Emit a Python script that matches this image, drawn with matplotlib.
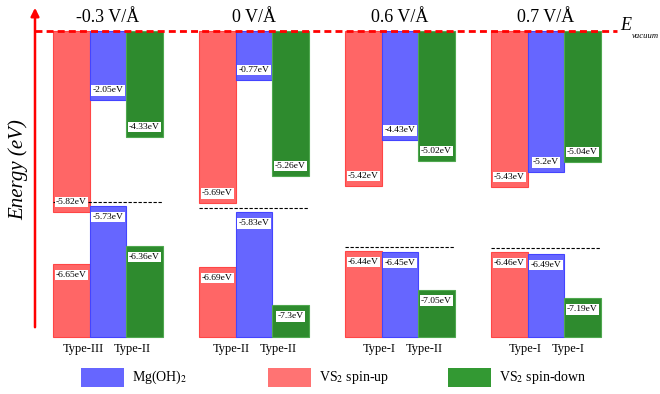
import numpy as np
import matplotlib
matplotlib.use("Agg")
import matplotlib.pyplot as plt
from matplotlib.patches import Rectangle
import matplotlib.transforms as mtransforms

plt.rcParams['font.family'] = ['Liberation Serif', 'DejaVu Serif']
plt.rcParams['mathtext.fontset'] = 'stix'

# electric field for each group
fields = ["-0.3 V/Å", "0 V/Å", "0.6 V/Å", "0.7 V/Å"]
# conduction band minima (bars hanging from the vacuum level)
cbm_up = [-5.82, -5.69, -5.42, -5.43]
cbm_mg = [-2.05, -0.77, -4.43, -5.2]
cbm_down = [-4.33, -5.26, -5.02, -5.04]
# valence band maxima (bars rising from the bottom)
vbm_up = [-6.65, -6.69, -6.44, -6.46]
vbm_mg = [-5.73, -5.83, -6.45, -6.49]
vbm_down = [-6.36, -7.3, -7.05, -7.19]
# band alignment: spin-up / spin-down
type_up = ["Type-III", "Type-II", "Type-I", "Type-I"]
type_down = ["Type-II", "Type-II", "Type-II", "Type-I"]

E_BOT = -7.8  # schematic bottom of the valence bars

# the original energy axis is schematic (compressed near the vacuum level)
axis_E = [-10, -7.8, -5.02, -4.33, -0.77, 0, 2]
axis_depth = [-445, -306, -130, -106, -49, 0, 128]

def fwd(e):
    return np.interp(e, axis_E, axis_depth)

def inv(t):
    return np.interp(t, axis_depth, axis_E)

RED, RED_E = '#FF6666', '#FF4646'
BLUE, BLUE_E = '#6666FF', '#4444FF'
GREEN, GREEN_E = '#2E8B2E', '#4FA84F'

fig = plt.figure(figsize=(6.6, 3.94), dpi=100)
ax = fig.add_axes([0, 0, 1, 1])
ax.set_yscale('function', functions=(fwd, inv))
ax.set_xlim(-108 / 36.5, (660 - 108) / 36.5)
ax.set_ylim(inv(31 - 394), inv(31))
ax.axis('off')

gx = np.arange(len(fields)) * 4.0
series = [(cbm_up, vbm_up, RED, RED_E, -1),
          (cbm_mg, vbm_mg, BLUE, BLUE_E, 0),
          (cbm_down, vbm_down, GREEN, GREEN_E, 1)]

for cb, vb, col, ecol, off in series:
    cb = np.array(cb)
    vb = np.array(vb)
    ax.bar(gx + off, 0 - cb, bottom=cb, width=1, color=col, edgecolor=ecol, lw=0.8, zorder=2)
    ax.bar(gx + off, vb - E_BOT, bottom=E_BOT, width=1, color=col, edgecolor=ecol, lw=0.8, zorder=2)
    for x, c, v in zip(gx + off, cb, vb):
        ax.annotate(f"{c:g}eV", (x, c), xytext=(0, 7.2), textcoords='offset points',
                    ha='center', va='center', fontsize=6.8, zorder=5,
                    bbox=dict(boxstyle='square,pad=0.12', fc='white', ec='none'))
        ax.annotate(f"{v:g}eV", (x, v), xytext=(0, -8), textcoords='offset points',
                    ha='center', va='center', fontsize=6.8, zorder=5,
                    bbox=dict(boxstyle='square,pad=0.12', fc='white', ec='none'))

# dashed line just above the highest valence band of each group
lift = ax.transData + mtransforms.ScaledTranslation(0, 4 / 100, fig.dpi_scale_trans)
for i, x in enumerate(gx):
    top = max(vbm_up[i], vbm_mg[i], vbm_down[i])
    ax.plot([x - 1.5, x + 1.5], [top, top], color='black', lw=0.8,
            ls=(0, (3, 1.5)), transform=lift, zorder=3)

# vacuum level
ax.axhline(0, xmin=35 / 660, xmax=617 / 660, color='red', lw=2, ls=(0, (2.5, 1.5)), zorder=4)
ax.annotate('E', xy=(620, 0), xycoords=('figure pixels', 'data'),
            xytext=(0, 4), textcoords='offset points', ha='left', va='center',
            fontsize=13, style='italic')
ax.annotate('vacuum', xy=(632, 0), xycoords=('figure pixels', 'data'),
            xytext=(0, -3.5), textcoords='offset points', ha='left', va='center',
            fontsize=6.2, style='italic')

# energy arrow
ax.annotate('', xy=(35, 389), xycoords='figure pixels', xytext=(35, 64),
            textcoords='figure pixels',
            arrowprops=dict(arrowstyle='-|>', color='red', lw=1.8, mutation_scale=12))
fig.text(18 / 660, 1 - 170 / 394, 'Energy (eV)', rotation=90, style='italic',
         fontsize=15, ha='center', va='center')

# titles and alignment types
for i, x in enumerate(gx):
    ax.annotate(fields[i], (x, 0), xytext=(0, 10), textcoords='offset points',
                ha='center', va='center', fontsize=13)
    ax.annotate(type_up[i], (x, E_BOT), xytext=(-3, -9), textcoords='offset points',
                ha='right', va='center', fontsize=9)
    ax.annotate(type_down[i], (x, E_BOT), xytext=(4, -9), textcoords='offset points',
                ha='left', va='center', fontsize=9)

# legend
legend_items = [(81, BLUE, 'Mg(OH)$_2$'),
                (268, '#FF7373', 'VS$_2$ spin-up'),
                (448, '#339933', 'VS$_2$ spin-down')]
for px, col, lab in legend_items:
    fig.add_artist(Rectangle((px / 660, 7 / 394), 43 / 660, 19 / 394,
                             transform=fig.transFigure, fc=col, ec='none'))
    fig.text((px + 51) / 660, 17 / 394, lab, fontsize=10, ha='left', va='center')

fig.savefig('out.png', dpi=100)
